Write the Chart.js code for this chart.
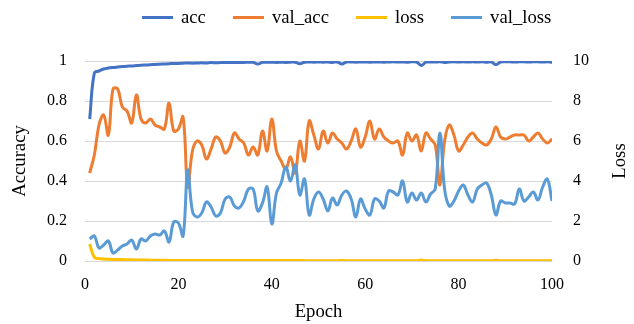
<!DOCTYPE html>
<html>
<head>
<meta charset="utf-8">
<script src="https://cdn.jsdelivr.net/npm/chart.js@4.4.0/dist/chart.umd.min.js"></script>
<style>
  html, body { margin: 0; padding: 0; background: #fff; }
  #wrap { position: relative; width: 634px; height: 324px; }
  #legend {
    position: absolute; top: 6px; left: 142px;
    display: flex; align-items: center;
    font-family: 'Liberation Serif', 'Times New Roman', serif; font-size: 18.7px; color: #000;
  }
  #legend .item { display: flex; align-items: center; margin-right: 27px; }
  #legend .swatch { width: 31px; height: 3px; margin-right: 8px; }
</style>
</head>
<body>
<div id="wrap">
  <canvas id="chart" width="634" height="324"></canvas>
  <div id="legend"></div>
</div>
<script>
/* =====================
  Data
===================== */
var epochs = Array.from({length: 100}, function (_, i) { return i + 1 })

var acc = [0.71, 0.94, 0.95, 0.96, 0.965, 0.968, 0.97, 0.972, 0.974, 0.975,
  0.977, 0.979, 0.98, 0.981, 0.983, 0.984, 0.985, 0.986, 0.988, 0.988,
  0.989, 0.99, 0.989, 0.99, 0.991, 0.99, 0.992, 0.991, 0.992, 0.993,
  0.992, 0.993, 0.992, 0.993, 0.994, 0.993, 0.985, 0.993, 0.994, 0.994,
  0.993, 0.994, 0.993, 0.994, 0.994, 0.986, 0.994, 0.995, 0.994, 0.995,
  0.994, 0.995, 0.993, 0.995, 0.985, 0.995, 0.995, 0.994, 0.995, 0.995,
  0.994, 0.995, 0.995, 0.994, 0.995, 0.996, 0.995, 0.995, 0.994, 0.996,
  0.995, 0.978, 0.994, 0.995, 0.995, 0.996, 0.993, 0.995, 0.996, 0.995,
  0.996, 0.995, 0.996, 0.995, 0.996, 0.994, 0.995, 0.982, 0.995, 0.996,
  0.996, 0.995, 0.996, 0.996, 0.995, 0.996, 0.996, 0.995, 0.996, 0.993]

var val_acc = [0.44, 0.53, 0.68, 0.73, 0.63, 0.86, 0.86, 0.77, 0.75, 0.69,
  0.83, 0.71, 0.69, 0.71, 0.68, 0.67, 0.66, 0.79, 0.65, 0.66,
  0.72, 0.37, 0.55, 0.60, 0.58, 0.51, 0.56, 0.62, 0.60, 0.54,
  0.57, 0.64, 0.61, 0.59, 0.53, 0.57, 0.53, 0.65, 0.55, 0.71,
  0.55, 0.50, 0.46, 0.52, 0.44, 0.60, 0.50, 0.70, 0.63, 0.56,
  0.65, 0.59, 0.64, 0.61, 0.59, 0.56, 0.60, 0.66, 0.57, 0.62,
  0.70, 0.61, 0.66, 0.62, 0.60, 0.59, 0.60, 0.53, 0.64, 0.60,
  0.63, 0.55, 0.64, 0.61, 0.58, 0.38, 0.60, 0.68, 0.63, 0.55,
  0.58, 0.62, 0.64, 0.61, 0.59, 0.58, 0.61, 0.67, 0.62, 0.61,
  0.62, 0.63, 0.63, 0.63, 0.60, 0.62, 0.64, 0.61, 0.59, 0.61]

var loss = [0.85, 0.18, 0.12, 0.10, 0.09, 0.08, 0.07, 0.07, 0.06, 0.06,
  0.05, 0.05, 0.05, 0.04, 0.04, 0.04, 0.04, 0.03, 0.03, 0.03,
  0.03, 0.03, 0.02, 0.02, 0.02, 0.02, 0.02, 0.02, 0.02, 0.02,
  0.02, 0.02, 0.02, 0.02, 0.02, 0.02, 0.03, 0.02, 0.02, 0.02,
  0.02, 0.02, 0.02, 0.02, 0.02, 0.03, 0.02, 0.01, 0.01, 0.01,
  0.01, 0.01, 0.01, 0.01, 0.03, 0.01, 0.01, 0.01, 0.01, 0.01,
  0.01, 0.01, 0.01, 0.01, 0.01, 0.01, 0.01, 0.01, 0.01, 0.01,
  0.01, 0.05, 0.01, 0.01, 0.01, 0.01, 0.01, 0.01, 0.01, 0.01,
  0.01, 0.01, 0.01, 0.01, 0.01, 0.01, 0.01, 0.04, 0.01, 0.01,
  0.01, 0.01, 0.01, 0.01, 0.01, 0.01, 0.01, 0.01, 0.01, 0.02]

var val_loss = [1.10, 1.25, 0.65, 0.80, 1.00, 0.40, 0.55, 0.75, 0.85, 1.05,
  0.60, 1.10, 1.00, 1.25, 1.35, 1.30, 1.50, 0.95, 1.95, 1.90,
  1.25, 4.55, 2.50, 2.20, 2.40, 2.95, 2.70, 2.25, 2.40, 3.10,
  3.20, 2.75, 2.65, 3.00, 3.60, 3.60, 2.50, 2.90, 3.70, 1.85,
  3.40, 3.90, 4.70, 4.00, 4.80, 3.30, 4.10, 2.30, 3.10, 3.45,
  3.10, 2.50, 3.15, 2.80, 3.30, 3.50, 3.10, 2.20, 3.10, 2.60,
  2.30, 3.10, 3.00, 2.65, 3.50, 3.45, 3.30, 4.00, 2.95, 3.40,
  3.05, 3.40, 2.95, 3.35, 3.60, 6.40, 3.60, 2.75, 3.00, 3.50,
  3.80, 3.30, 2.95, 3.60, 3.80, 3.90, 3.30, 2.30, 3.00, 2.90,
  2.90, 2.85, 3.60, 3.00, 3.20, 3.45, 3.05, 3.70, 4.10, 3.00]

var names = ['acc', 'val_acc', 'loss', 'val_loss']
var colors = ['#4472C4', '#ED7D31', '#FFC000', '#5B9BD5']

var accTicks = [0, 0.2, 0.4, 0.6, 0.8, 1]
var lossTicks = [0, 2, 4, 6, 8, 10]

/* =====================
  Chart Setup
===================== */
var serif = "'Liberation Serif', 'Times New Roman', serif"

var toPoints = function (arr) {
  return arr.map(function (v, i) { return {x: epochs[i], y: v} })
}

var makeSet = function (idx, arr, axis, order) {
  return {
    label: names[idx],
    data: toPoints(arr),
    yAxisID: axis,
    borderColor: colors[idx],
    backgroundColor: colors[idx],
    borderWidth: 3,
    pointRadius: 0,
    tension: 0.4,
    fill: false,
    order: order
  }
}

// right axis title, drawn bottom-to-top like the left one
var rightTitle = {
  id: 'rightTitle',
  afterDraw: function (chart) {
    var ctx = chart.ctx
    var area = chart.chartArea
    ctx.save()
    ctx.translate(620, (area.top + area.bottom) / 2)
    ctx.rotate(-Math.PI / 2)
    ctx.font = '18.7px ' + serif
    ctx.fillStyle = '#000'
    ctx.textAlign = 'center'
    ctx.textBaseline = 'middle'
    ctx.fillText('Loss', 0, 0)
    ctx.restore()
  }
}

var plainNum = function (v) { return String(+v.toFixed(1)) }

var ctx = document.getElementById('chart').getContext('2d')
var chart = new Chart(ctx, {
  type: 'line',
  data: {
    datasets: [
      makeSet(0, acc, 'y', 4),
      makeSet(1, val_acc, 'y', 3),
      makeSet(2, loss, 'y1', 2),
      makeSet(3, val_loss, 'y1', 1)
    ]
  },
  options: {
    responsive: false,
    animation: false,
    layout: {padding: {top: 61, left: 0, right: 0, bottom: 0}},
    plugins: {
      legend: {display: false},
      tooltip: {enabled: false}
    },
    scales: {
      x: {
        type: 'linear',
        min: 0,
        max: 100,
        grid: {display: false, drawTicks: false},
        border: {display: false},
        ticks: {stepSize: 20, padding: 14, color: '#000', font: {family: serif, size: 16}},
        title: {display: true, text: 'Epoch', color: '#000', font: {family: serif, size: 18.7}, padding: {top: 0, bottom: 1}},
        afterFit: function (s) { s.height = 63 }
      },
      y: {
        position: 'left',
        min: 0,
        max: 1,
        afterBuildTicks: function (s) { s.ticks = accTicks.map(function (v) { return {value: v} }) },
        grid: {color: '#D9D9D9', lineWidth: 1, drawTicks: false},
        border: {display: false},
        ticks: {padding: 18, color: '#000', font: {family: serif, size: 16}, callback: plainNum},
        title: {display: true, text: 'Accuracy', color: '#000', font: {family: serif, size: 18.7}, padding: {top: 9, bottom: 0}},
        afterFit: function (s) { s.width = 85 }
      },
      y1: {
        position: 'right',
        min: 0,
        max: 10,
        afterBuildTicks: function (s) { s.ticks = lossTicks.map(function (v) { return {value: v} }) },
        grid: {display: false, drawTicks: false},
        border: {display: false},
        ticks: {padding: 21, color: '#000', font: {family: serif, size: 16}, callback: plainNum},
        afterFit: function (s) { s.width = 82 }
      }
    }
  },
  plugins: [rightTitle]
})

// Legend
var legendEl = document.getElementById('legend')
names.forEach(function (n, i) {
  var item = document.createElement('div')
  item.className = 'item'
  var sw = document.createElement('span')
  sw.className = 'swatch'
  sw.style.background = colors[i]
  var txt = document.createElement('span')
  txt.textContent = n
  item.appendChild(sw)
  item.appendChild(txt)
  legendEl.appendChild(item)
})
</script>
</body>
</html>
